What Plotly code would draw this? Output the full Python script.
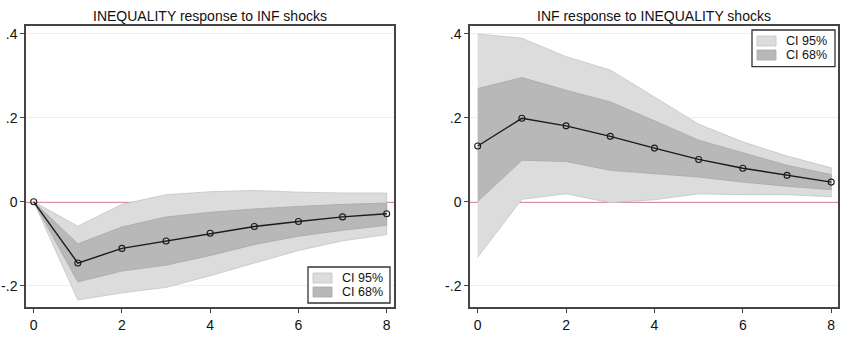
import plotly.graph_objects as go

steps = [0, 1, 2, 3, 4, 5, 6, 7, 8]

# Left: INEQUALITY response to INF shocks
l_irf = [0.0, -0.146, -0.111, -0.0935, -0.075, -0.059, -0.047, -0.036, -0.0285]
l_up95 = [0.0, -0.058, -0.006, 0.017, 0.024, 0.027, 0.023, 0.021, 0.021]
l_lo95 = [0.0, -0.234, -0.217, -0.204, -0.176, -0.146, -0.116, -0.093, -0.078]
l_up68 = [0.0, -0.100, -0.060, -0.036, -0.025, -0.017, -0.011, -0.006, -0.003]
l_lo68 = [0.0, -0.191, -0.165, -0.151, -0.128, -0.102, -0.082, -0.068, -0.056]

# Right: INF response to INEQUALITY shocks
r_irf = [0.133, 0.199, 0.181, 0.156, 0.128, 0.101, 0.080, 0.063, 0.047]
r_up95 = [0.400, 0.390, 0.346, 0.314, 0.250, 0.185, 0.143, 0.109, 0.081]
r_lo95 = [-0.132, 0.006, 0.019, -0.002, 0.005, 0.019, 0.017, 0.017, 0.012]
r_up68 = [0.270, 0.296, 0.266, 0.238, 0.193, 0.147, 0.117, 0.087, 0.065]
r_lo68 = [0.001, 0.099, 0.096, 0.075, 0.067, 0.059, 0.047, 0.037, 0.029]

titles = ["INEQUALITY response to INF shocks", "INF response to INEQUALITY shocks"]
legend_labels = ["CI 95%", "CI 68%"]
ytick_vals = [-0.2, 0, 0.2, 0.4]
ytick_text = ["-.2", "0", ".2", ".4"]
xtick_vals = [0, 2, 4, 6, 8]

C95 = "#dcdcdc"
C95_EDGE = "#c4c4c4"
C68 = "#b8b8b8"
C68_EDGE = "#a8a8a8"
FONT = "Liberation Sans, Arial, sans-serif"

W = 850.0
H = 337.0

def px(xp):
    return xp / W

def py(yp):
    return 1 - yp / H

fig = go.Figure()

panels = [
    (l_irf, l_up95, l_lo95, l_up68, l_lo68, "x", "y"),
    (r_irf, r_up95, r_lo95, r_up68, r_lo68, "x2", "y2"),
]

for irf, up95, lo95, up68, lo68, xa, ya in panels:
    fig.add_trace(go.Scatter(
        x=steps + steps[::-1], y=up95 + lo95[::-1], fill="toself",
        fillcolor=C95, line=dict(color=C95_EDGE, width=0.8), mode="lines",
        name=legend_labels[0], xaxis=xa, yaxis=ya, showlegend=False, hoverinfo="skip"))
    fig.add_trace(go.Scatter(
        x=steps + steps[::-1], y=up68 + lo68[::-1], fill="toself",
        fillcolor=C68, line=dict(color=C68_EDGE, width=0.8), mode="lines",
        name=legend_labels[1], xaxis=xa, yaxis=ya, showlegend=False, hoverinfo="skip"))
    fig.add_trace(go.Scatter(
        x=steps, y=irf, mode="lines+markers",
        line=dict(color="#1a1a1a", width=1.4),
        marker=dict(symbol="circle-open", size=6, color="#1a1a1a", line=dict(width=1.1)),
        showlegend=False, xaxis=xa, yaxis=ya))

ydom = [py(307), py(26)]
xdom1 = [px(26), px(394)]
xdom2 = [px(470), px(838.3)]

axis_common = dict(
    showline=True, linecolor="#444444", linewidth=1.5, mirror=True,
    ticks="outside", ticklen=4, tickwidth=1, tickcolor="#444444",
    tickfont=dict(family=FONT, size=14, color="#111111"), zeroline=False,
)

fig.update_layout(
    width=850, height=337,
    margin=dict(l=0, r=0, t=0, b=0),
    paper_bgcolor="white", plot_bgcolor="white",
    font=dict(family=FONT, color="#111111"),
    showlegend=False,
    xaxis=dict(domain=xdom1, range=[-0.175, 8.166], tickvals=xtick_vals,
               showgrid=False, anchor="y", **axis_common),
    yaxis=dict(domain=ydom, range=[-0.2507, 0.419], tickvals=ytick_vals,
               ticktext=ytick_text, showgrid=True, gridcolor="#efefef",
               gridwidth=1, anchor="x", **axis_common),
    xaxis2=dict(domain=xdom2, range=[-0.174, 8.16], tickvals=xtick_vals,
                showgrid=False, anchor="y2", **axis_common),
    yaxis2=dict(domain=ydom, range=[-0.2507, 0.419], tickvals=ytick_vals,
                ticktext=ytick_text, showgrid=True, gridcolor="#efefef",
                gridwidth=1, anchor="x2", **axis_common),
)

# zero reference lines beneath the bands
for xa, ya in [("x", "y"), ("x2", "y2")]:
    fig.add_shape(type="line", xref=f"{xa} domain", yref=ya, x0=0, x1=1, y0=0, y1=0,
                  line=dict(color="#a82452", width=1.5), layer="below")

# titles
for t, (a, b) in zip(titles, [(26, 394), (470, 838)]):
    fig.add_annotation(text=t, x=px((a + b) / 2), y=py(16), xref="paper", yref="paper",
                       showarrow=False, font=dict(family=FONT, size=14, color="#111111"),
                       xanchor="center", yanchor="middle")

# hand-drawn legends (box left, top, right, bottom in pixels)
legend_boxes = [(308, 267, 390, 303), (752, 30, 835, 66.7)]
for (bx0, by0, bx1, by1) in legend_boxes:
    fig.add_shape(type="rect", xref="paper", yref="paper",
                  x0=px(bx0), x1=px(bx1), y0=py(by1), y1=py(by0),
                  fillcolor="white", line=dict(color="#333333", width=1.3), layer="above")
    rows = [(by0 + 6, by0 + 16, C95, C95_EDGE, legend_labels[0]),
            (by0 + 20, by0 + 30, C68, C68_EDGE, legend_labels[1])]
    for (sy0, sy1, fc, ec, lab) in rows:
        fig.add_shape(type="rect", xref="paper", yref="paper",
                      x0=px(bx0 + 5), x1=px(bx0 + 24), y0=py(sy1), y1=py(sy0),
                      fillcolor=fc, line=dict(color=ec, width=0.8), layer="above")
        fig.add_annotation(text=lab, x=px(bx0 + 33), y=py((sy0 + sy1) / 2), xref="paper", yref="paper",
                           showarrow=False, xanchor="left", yanchor="middle",
                           borderpad=0,
                           font=dict(family=FONT, size=12.5, color="#111111"))

fig.write_html("out.html")
